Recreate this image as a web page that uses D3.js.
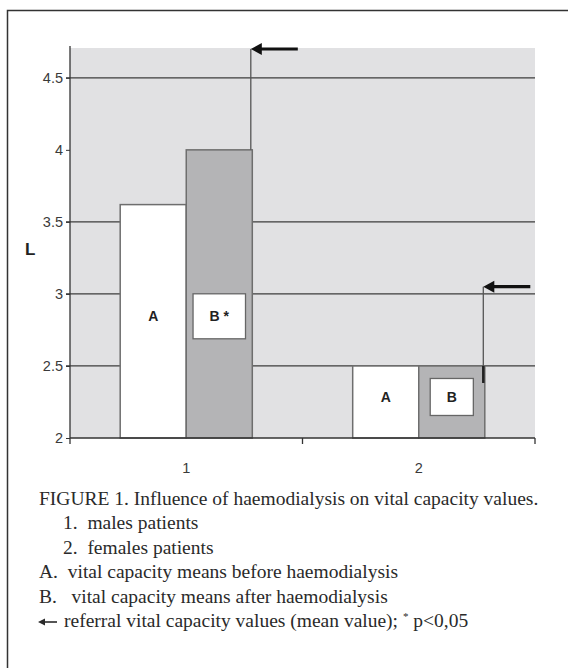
<!DOCTYPE html>
<html>
<head>
<meta charset="utf-8">
<script src="https://cdn.jsdelivr.net/npm/d3@7"></script>
<style>
  body { margin: 0; background: #fff; }
  text { white-space: pre; }
</style>
</head>
<body>
<div id="chart"></div>
<script>
// data
const groups = ["1", "2"];
const series = ["A", "B"];
const before = [3.62, 2.5];     // A: before haemodialysis
const after = [4.0, 2.5];       // B: after haemodialysis
const referral = [4.7, 3.05];   // arrows: referral mean values
const barLabels = [["A", "B *"], ["A", "B"]];
const yTicks = [2, 2.5, 3, 3.5, 4, 4.5];
const gridValues = [2.5, 3, 3.5, 4.5];
const captionLines = [
  "FIGURE 1. Influence of haemodialysis on vital capacity values.",
  "1.  males patients",
  "2.  females patients",
  "A.  vital capacity means before haemodialysis",
  "B.   vital capacity means after haemodialysis",
  "referral vital capacity values (mean value); "
];
const captionIndent = [0, 1, 1, 0, 0, 0];

const W = 568, H = 668;
const svg = d3.select("#chart").append("svg").attr("width", W).attr("height", H);

// frame (only top and left edges visible)
svg.append("path").attr("d", "M7.5," + H + "V10.5H" + W)
  .attr("fill", "none").attr("stroke", "#333").attr("stroke-width", 1.5);

const pLeft = 70, pRight = 535, pTop = 48, pBottom = 438;

const y = d3.scaleLinear().domain([2, 4.7]).range([pBottom, pTop + 1]);
const x0 = d3.scaleBand().domain(groups).range([pLeft, pRight]);
const x1 = d3.scaleBand().domain(series).range([0, x0.bandwidth()]).paddingOuter(0.76);

const plot = svg.append("g");

plot.append("rect").attr("x", pLeft).attr("y", pTop)
  .attr("width", pRight - pLeft).attr("height", pBottom - pTop).attr("fill", "#e1e1e3");

plot.selectAll(".grid").data(gridValues).enter().append("line")
  .attr("class", "grid")
  .attr("x1", pLeft - 4).attr("x2", pRight)
  .attr("y1", d => y(d)).attr("y2", d => y(d))
  .attr("stroke", "#3c3c3c").attr("stroke-width", 1.2);

// bars
const barData = [];
groups.forEach((g, i) => {
  barData.push({ g: g, s: "A", v: before[i], i: i });
  barData.push({ g: g, s: "B", v: after[i], i: i });
});

plot.selectAll(".bar").data(barData).enter().append("rect")
  .attr("class", "bar")
  .attr("x", d => x0(d.g) + x1(d.s))
  .attr("y", d => y(d.v))
  .attr("width", x1.bandwidth())
  .attr("height", d => pBottom - y(d.v))
  .attr("fill", d => d.s == "A" ? "#ffffff" : "#b4b4b6")
  .attr("stroke", "#6e6e6e").attr("stroke-width", 1.5);

// referral arrows
groups.forEach((g, i) => {
  const xr = x0(g) + x1("B") + x1.bandwidth() - 1.5;
  const yt = y(referral[i]);
  const yb = i == 0 ? y(after[i]) : y(after[i]) + 17;
  plot.append("line").attr("x1", xr).attr("x2", xr).attr("y1", yb).attr("y2", yt)
    .attr("stroke", "#555").attr("stroke-width", 1.3);
  if (i == 1) {
    plot.append("line").attr("x1", xr).attr("x2", xr).attr("y1", y(after[i]))
      .attr("y2", yb).attr("stroke", "#222").attr("stroke-width", 2.5);
  }
  plot.append("line").attr("x1", xr + 8).attr("x2", xr + 47).attr("y1", yt).attr("y2", yt)
    .attr("stroke", "#111").attr("stroke-width", 3.2);
  plot.append("path")
    .attr("d", "M" + xr + "," + yt + "l11,-6l0,12z")
    .attr("fill", "#111");
});

// labels in bars
groups.forEach((g, i) => {
  const mid = y((2 + Math.min(before[i], after[i])) / 2) - 5;
  plot.append("text").text(barLabels[i][0])
    .attr("x", x0(g) + x1("A") + x1.bandwidth() / 2)
    .attr("y", mid).attr("dy", "0.36em")
    .attr("text-anchor", "middle")
    .attr("font-family", "Liberation Sans, Arial, sans-serif")
    .attr("font-weight", "bold").attr("font-size", 14).attr("fill", "#222");
  const cx = x0(g) + x1("B") + x1.bandwidth() / 2;
  const t = plot.append("text").text(barLabels[i][1])
    .attr("x", cx).attr("y", mid).attr("dy", "0.36em")
    .attr("text-anchor", "middle")
    .attr("font-family", "Liberation Sans, Arial, sans-serif")
    .attr("font-weight", "bold").attr("font-size", 14).attr("fill", "#222");
  const bw = t.node().getComputedTextLength() + 33;
  const bh = i == 0 ? 45 : 37;
  plot.append("rect")
    .attr("x", cx - bw / 2).attr("y", mid - bh / 2)
    .attr("width", bw).attr("height", bh)
    .attr("fill", "#fff").attr("stroke", "#666").attr("stroke-width", 1.3);
  t.raise();
});

// axes
const yAxis = plot.append("g").attr("transform", "translate(" + pLeft + ",0)")
  .call(d3.axisLeft(y).tickValues(yTicks).tickSize(4).tickFormat(d3.format("")));
const xAxis = plot.append("g").attr("transform", "translate(0," + pBottom + ")")
  .call(d3.axisBottom(x0).tickSize(0).tickPadding(25));

[yAxis, xAxis].forEach(a => {
  a.select(".domain").attr("stroke", "#333").attr("stroke-width", 1.3);
  a.selectAll("line").attr("stroke", "#333");
  a.selectAll("text").attr("font-family", "Liberation Sans, Arial, sans-serif")
    .attr("font-size", 14.5).attr("fill", "#3a3a3a");
});
yAxis.select(".domain").attr("d", "M0," + (pTop - 2) + "V" + pBottom);
xAxis.select(".domain").attr("d", "M" + pLeft + ",0H" + pRight);
xAxis.selectAll(".xt").data(d3.range(groups.length + 1)).enter().append("line")
  .attr("class", "xt")
  .attr("x1", d => d * x0.step() + pLeft).attr("x2", d => d * x0.step() + pLeft)
  .attr("y1", 0).attr("y2", 6).attr("stroke", "#333").attr("stroke-width", 1.3);

svg.append("text").text("L").attr("x", 25).attr("y", 255)
  .attr("font-family", "Liberation Sans, Arial, sans-serif")
  .attr("font-weight", "bold").attr("font-size", 17).attr("fill", "#222");

// caption
const cap = svg.append("g").attr("font-family", "Liberation Serif, Times New Roman, serif")
  .attr("font-size", 19.5).attr("fill", "#2a2a2a");
cap.selectAll("text").data(captionLines).enter().append("text")
  .attr("x", (d, i) => 39 + captionIndent[i] * 24 + (i == 5 ? 25 : 0))
  .attr("y", (d, i) => 505 + i * 24.4)
  .text(d => d);
const last = cap.select("text:last-child");
last.append("tspan").text("*").attr("font-size", 11).attr("dy", -7);
last.append("tspan").text(" p<0,05").attr("dy", 7);
// little arrow in front of the last line
const ay = 505 + 5 * 24.4 - 5;
cap.append("line").attr("x1", 45).attr("x2", 57).attr("y1", ay).attr("y2", ay)
  .attr("stroke", "#2a2a2a").attr("stroke-width", 1.6);
cap.append("path").attr("d", "M38," + ay + "l7,-3.5v7z").attr("fill", "#2a2a2a");
</script>
</body>
</html>
